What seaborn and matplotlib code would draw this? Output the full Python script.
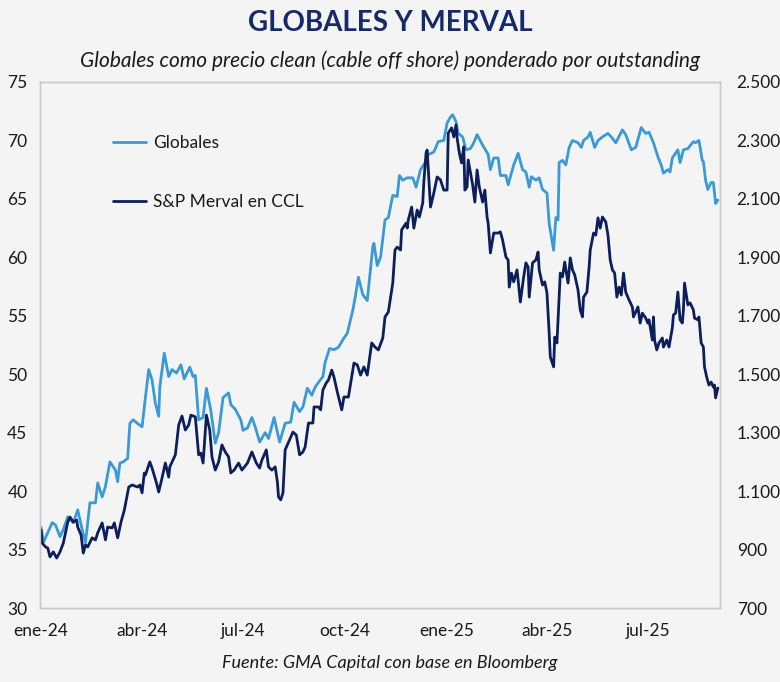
import matplotlib.pyplot as plt
import matplotlib.ticker as mticker
import seaborn as sns
import pandas as pd

# Globales (precio clean ponderado, eje izquierdo)
globales_fechas = [
    "2024-01-01", "2024-01-03", "2024-01-11", "2024-01-14", "2024-01-18", "2024-01-21", "2024-01-25",
    "2024-01-30", "2024-02-03", "2024-02-07", "2024-02-10", "2024-02-14", "2024-02-19", "2024-02-21",
    "2024-02-25", "2024-02-28", "2024-03-03", "2024-03-08", "2024-03-10", "2024-03-12", "2024-03-15",
    "2024-03-19", "2024-03-21", "2024-03-24", "2024-03-29", "2024-04-01", "2024-04-04", "2024-04-07",
    "2024-04-10", "2024-04-13", "2024-04-16", "2024-04-17", "2024-04-21", "2024-04-25", "2024-04-28",
    "2024-05-02", "2024-05-06", "2024-05-09", "2024-05-14", "2024-05-17", "2024-05-19", "2024-05-22",
    "2024-05-26", "2024-05-29", "2024-06-02", "2024-06-06", "2024-06-09", "2024-06-13", "2024-06-18",
    "2024-06-20", "2024-06-24", "2024-06-29", "2024-07-01", "2024-07-05", "2024-07-09", "2024-07-12",
    "2024-07-16", "2024-07-21", "2024-07-24", "2024-07-29", "2024-08-03", "2024-08-08", "2024-08-13",
    "2024-08-16", "2024-08-21", "2024-08-24", "2024-08-28", "2024-09-01", "2024-09-04", "2024-09-07",
    "2024-09-11", "2024-09-13", "2024-09-17", "2024-09-21", "2024-09-25", "2024-09-30", "2024-10-03",
    "2024-10-08", "2024-10-10", "2024-10-13", "2024-10-17", "2024-10-21", "2024-10-26", "2024-10-27",
    "2024-10-30", "2024-11-02", "2024-11-06", "2024-11-09", "2024-11-13", "2024-11-17", "2024-11-19",
    "2024-11-22", "2024-11-26", "2024-12-01", "2024-12-04", "2024-12-08", "2024-12-13", "2024-12-15",
    "2024-12-20", "2024-12-24", "2024-12-29", "2025-01-01", "2025-01-04", "2025-01-06", "2025-01-09",
    "2025-01-11", "2025-01-15", "2025-01-18", "2025-01-22", "2025-01-25", "2025-01-28", "2025-02-02",
    "2025-02-07", "2025-02-09", "2025-02-12", "2025-02-16", "2025-02-18", "2025-02-23", "2025-02-25",
    "2025-03-02", "2025-03-06", "2025-03-10", "2025-03-13", "2025-03-16", "2025-03-18", "2025-03-22",
    "2025-03-25", "2025-03-28", "2025-04-01", "2025-04-03", "2025-04-07", "2025-04-09", "2025-04-11",
    "2025-04-12", "2025-04-15", "2025-04-18", "2025-04-21", "2025-04-24", "2025-04-29", "2025-05-02",
    "2025-05-04", "2025-05-08", "2025-05-10", "2025-05-14", "2025-05-17", "2025-05-21", "2025-05-26",
    "2025-05-29", "2025-06-02", "2025-06-08", "2025-06-11", "2025-06-16", "2025-06-20", "2025-06-25",
    "2025-06-29", "2025-07-02", "2025-07-06", "2025-07-10", "2025-07-13", "2025-07-15", "2025-07-19",
    "2025-07-21", "2025-07-23", "2025-07-28", "2025-07-30", "2025-08-02", "2025-08-06", "2025-08-11",
    "2025-08-13", "2025-08-16", "2025-08-19", "2025-08-20", "2025-08-22", "2025-08-24", "2025-08-27",
    "2025-08-29", "2025-08-31", "2025-09-02",
]
globales_valores = [
    36.9, 35.6, 37.3, 37.1, 36.1, 36.7, 37.8,
    37.3, 38.4, 36.7, 35.6, 39.0, 39.0, 40.7,
    39.5, 40.4, 42.5, 41.8, 40.8, 42.4, 42.5,
    42.8, 45.8, 46.1, 45.7, 45.5, 48.0, 50.4,
    49.5, 47.5, 46.4, 48.9, 51.8, 49.8, 50.4,
    50.1, 50.8, 49.6, 50.6, 49.8, 49.9, 46.1,
    46.3, 48.8, 46.9, 44.1, 45.0, 48.0, 48.4,
    47.4, 47.0, 46.1, 45.2, 45.4, 46.3, 45.5,
    44.2, 45.0, 44.5, 46.3, 44.2, 45.8, 45.9,
    47.6, 46.8, 47.2, 48.8, 48.2, 48.9, 49.3,
    49.8, 51.0, 52.2, 52.1, 52.3, 53.1, 53.5,
    55.5, 56.5, 58.3, 56.8, 56.3, 60.9, 61.2,
    59.3, 60.0, 63.2, 63.4, 65.3, 65.2, 67.0,
    66.6, 66.8, 66.8, 66.0, 67.5, 68.2, 68.8,
    69.0, 69.9, 70.0, 71.5, 72.0, 72.2, 71.6,
    70.6, 70.3, 69.2, 69.3, 69.8, 70.5, 69.6,
    68.8, 67.5, 68.5, 68.5, 67.0, 67.0, 66.2,
    67.9, 68.9, 67.5, 67.3, 66.0, 66.9, 66.6,
    66.8, 65.8, 65.5, 62.9, 60.6, 63.4, 63.2,
    68.1, 68.3, 67.9, 69.4, 70.0, 69.8, 69.4,
    70.0, 70.3, 70.7, 69.4, 70.0, 70.3, 70.6,
    70.3, 69.8, 70.9, 70.5, 69.2, 69.4, 71.1,
    70.6, 70.7, 69.8, 68.6, 67.9, 67.2, 67.5,
    67.3, 68.5, 69.2, 68.1, 69.2, 69.3, 69.9,
    69.8, 70.0, 68.3, 68.2, 66.6, 65.8, 66.4,
    66.4, 64.6, 64.9,
]

# S&P Merval en CCL (eje derecho)
merval_fechas = [
    "2024-01-01", "2024-01-02", "2024-01-05", "2024-01-07", "2024-01-09", "2024-01-12", "2024-01-15",
    "2024-01-18", "2024-01-21", "2024-01-25", "2024-01-27", "2024-01-30", "2024-02-02", "2024-02-03",
    "2024-02-06", "2024-02-08", "2024-02-10", "2024-02-12", "2024-02-16", "2024-02-19", "2024-02-21",
    "2024-02-25", "2024-02-28", "2024-03-01", "2024-03-05", "2024-03-07", "2024-03-10", "2024-03-13",
    "2024-03-16", "2024-03-20", "2024-03-23", "2024-03-28", "2024-03-30", "2024-04-01", "2024-04-03",
    "2024-04-04", "2024-04-08", "2024-04-10", "2024-04-14", "2024-04-16", "2024-04-19", "2024-04-22",
    "2024-04-25", "2024-04-26", "2024-05-01", "2024-05-04", "2024-05-07", "2024-05-10", "2024-05-13",
    "2024-05-15", "2024-05-19", "2024-05-22", "2024-05-24", "2024-05-26", "2024-05-29", "2024-06-01",
    "2024-06-03", "2024-06-06", "2024-06-09", "2024-06-12", "2024-06-15", "2024-06-18", "2024-06-20",
    "2024-06-23", "2024-06-27", "2024-06-30", "2024-07-05", "2024-07-09", "2024-07-13", "2024-07-16",
    "2024-07-18", "2024-07-22", "2024-07-24", "2024-07-27", "2024-07-30", "2024-08-01", "2024-08-02",
    "2024-08-04", "2024-08-06", "2024-08-08", "2024-08-13", "2024-08-15", "2024-08-18", "2024-08-21",
    "2024-08-24", "2024-08-26", "2024-08-29", "2024-09-02", "2024-09-03", "2024-09-07", "2024-09-09",
    "2024-09-11", "2024-09-14", "2024-09-16", "2024-09-19", "2024-09-21", "2024-09-24", "2024-09-28",
    "2024-09-30", "2024-10-04", "2024-10-09", "2024-10-12", "2024-10-15", "2024-10-18", "2024-10-21",
    "2024-10-25", "2024-10-28", "2024-10-31", "2024-11-04", "2024-11-06", "2024-11-09", "2024-11-13",
    "2024-11-15", "2024-11-17", "2024-11-20", "2024-11-21", "2024-11-25", "2024-11-26", "2024-11-27",
    "2024-11-30", "2024-12-02", "2024-12-05", "2024-12-07", "2024-12-10", "2024-12-11", "2024-12-13",
    "2024-12-14", "2024-12-17", "2024-12-20", "2024-12-23", "2024-12-26", "2024-12-29", "2025-01-01",
    "2025-01-02", "2025-01-05", "2025-01-07", "2025-01-09", "2025-01-10", "2025-01-12", "2025-01-14",
    "2025-01-16", "2025-01-17", "2025-01-19", "2025-01-20", "2025-01-24", "2025-01-26", "2025-01-28",
    "2025-01-30", "2025-02-02", "2025-02-04", "2025-02-06", "2025-02-07", "2025-02-09", "2025-02-12",
    "2025-02-16", "2025-02-18", "2025-02-20", "2025-02-23", "2025-02-25", "2025-02-26", "2025-02-28",
    "2025-03-02", "2025-03-05", "2025-03-06", "2025-03-08", "2025-03-11", "2025-03-13", "2025-03-15",
    "2025-03-16", "2025-03-19", "2025-03-22", "2025-03-24", "2025-03-25", "2025-03-28", "2025-03-30",
    "2025-04-01", "2025-04-03", "2025-04-04", "2025-04-07", "2025-04-08", "2025-04-10", "2025-04-13",
    "2025-04-15", "2025-04-17", "2025-04-20", "2025-04-22", "2025-04-24", "2025-04-26", "2025-04-29",
    "2025-05-01", "2025-05-03", "2025-05-04", "2025-05-07", "2025-05-09", "2025-05-10", "2025-05-13",
    "2025-05-15", "2025-05-17", "2025-05-19", "2025-05-21", "2025-05-24", "2025-05-26", "2025-05-28",
    "2025-05-30", "2025-06-01", "2025-06-03", "2025-06-05", "2025-06-07", "2025-06-09", "2025-06-11",
    "2025-06-14", "2025-06-17", "2025-06-18", "2025-06-22", "2025-06-24", "2025-06-26", "2025-06-29",
    "2025-07-01", "2025-07-02", "2025-07-05", "2025-07-06", "2025-07-07", "2025-07-09", "2025-07-11",
    "2025-07-14", "2025-07-15", "2025-07-18", "2025-07-20", "2025-07-23", "2025-07-24", "2025-07-26",
    "2025-07-28", "2025-07-30", "2025-08-01", "2025-08-02", "2025-08-03", "2025-08-06", "2025-08-08",
    "2025-08-11", "2025-08-12", "2025-08-15", "2025-08-16", "2025-08-18", "2025-08-20", "2025-08-21",
    "2025-08-23", "2025-08-25", "2025-08-27", "2025-08-29", "2025-08-30", "2025-08-31", "2025-09-02",
]
merval_valores = [
    967, 922, 909, 905, 875, 892, 871,
    892, 922, 994, 1011, 994, 1001, 977,
    950, 888, 916, 909, 940, 933, 957,
    991, 933, 977, 974, 991, 940, 994,
    1035, 1114, 1121, 1114, 1121, 1094, 1162,
    1155, 1200, 1179, 1128, 1097, 1145, 1196,
    1148, 1183, 1224, 1326, 1357, 1309, 1326,
    1360, 1354, 1224, 1230, 1196, 1360, 1309,
    1217, 1172, 1200, 1258, 1234, 1217, 1162,
    1172, 1196, 1172, 1196, 1234, 1196, 1179,
    1206, 1241, 1183, 1172, 1183, 1131, 1080,
    1070, 1094, 1241, 1285, 1302, 1292, 1224,
    1234, 1251, 1333, 1333, 1388, 1388, 1378,
    1446, 1470, 1480, 1514, 1490, 1439, 1378,
    1422, 1422, 1538, 1532, 1497, 1525, 1497,
    1607, 1593, 1583, 1624, 1696, 1713, 1812,
    1925, 1935, 1925, 1994, 2017, 2000, 2028,
    2072, 2000, 2062, 2038, 2086, 2158, 2257,
    2267, 2072, 2120, 2175, 2165, 2130, 2130,
    2325, 2343, 2312, 2353, 2308, 2257, 2223,
    2278, 2130, 2141, 2233, 2148, 2089, 2199,
    2141, 2089, 2130, 2038, 2017, 1915, 1983,
    1983, 1987, 1959, 1901, 1891, 1798, 1846,
    1816, 1857, 1822, 1747, 1833, 1881, 1867,
    1764, 1881, 1891, 1918, 1857, 1805, 1816,
    1778, 1641, 1559, 1525, 1627, 1607, 1846,
    1833, 1884, 1812, 1898, 1857, 1840, 1788,
    1720, 1696, 1764, 1781, 1867, 1925, 1983,
    1976, 2035, 2000, 2038, 2021, 1976, 1891,
    1857, 1846, 1764, 1798, 1771, 1846, 1781,
    1754, 1730, 1696, 1730, 1675, 1709, 1692,
    1675, 1686, 1617, 1696, 1617, 1583, 1607,
    1624, 1593, 1617, 1593, 1658, 1703, 1709,
    1781, 1686, 1675, 1720, 1812, 1737, 1744,
    1720, 1692, 1686, 1696, 1607, 1593, 1525,
    1490, 1463, 1473, 1456, 1463, 1419, 1453,
]

x_tick_fechas = ["2024-01-01", "2024-04-01", "2024-07-01", "2024-10-01",
                 "2025-01-01", "2025-04-01", "2025-07-01"]
x_tick_labels = ["ene-24", "abr-24", "jul-24", "oct-24", "ene-25", "abr-25", "jul-25"]

color_globales = "#3a9ad8"
color_merval = "#0c1f5c"
color_titulo = "#142a6b"
fondo = "#f4f4f4"

sns.set_theme(style="white")
plt.rcParams["font.family"] = ["Lato", "DejaVu Sans"]

df_g = pd.DataFrame({"fecha": pd.to_datetime(globales_fechas), "valor": globales_valores})
df_m = pd.DataFrame({"fecha": pd.to_datetime(merval_fechas), "valor": merval_valores})

fig = plt.figure(figsize=(7.8, 6.82), dpi=100, facecolor=fondo)
ax = fig.add_axes([0.0513, 0.1085, 0.8718, 0.7713])
ax.set_facecolor(fondo)
ax2 = ax.twinx()

sns.lineplot(data=df_g, x="fecha", y="valor", ax=ax, color=color_globales, linewidth=2.0,
             label="Globales", legend=False)
sns.lineplot(data=df_m, x="fecha", y="valor", ax=ax2, color=color_merval, linewidth=2.0,
             label="S&P Merval en CCL", legend=False)

ax.set_xlim(pd.Timestamp("2023-12-31"), pd.Timestamp("2025-09-04"))
ax.set_ylim(30, 75)
ax.set_yticks(range(30, 80, 5))
ax2.set_ylim(700, 2500)
ax2.set_yticks(range(700, 2700, 200))
ax2.yaxis.set_major_formatter(mticker.FuncFormatter(lambda v, p: f"{int(v):,}".replace(",", ".")))

ax.set_xticks(pd.to_datetime(x_tick_fechas))
ax.set_xticklabels(x_tick_labels)

for a in (ax, ax2):
    a.set_xlabel("")
    a.set_ylabel("")
    for s in a.spines.values():
        s.set_color("#c9c9c9")
        s.set_linewidth(1.0)
ax.tick_params(axis="x", length=0, pad=11, labelsize=12.5, labelcolor="#1a1a1a")
ax.tick_params(axis="y", length=0, pad=9, labelsize=12.5, labelcolor="#1a1a1a")
ax2.tick_params(axis="y", length=0, pad=12, labelsize=12.5, labelcolor="#1a1a1a")

h1, l1 = ax.get_legend_handles_labels()
h2, l2 = ax2.get_legend_handles_labels()
leg = ax2.legend(h1 + h2, l1 + l2, loc="upper left", bbox_to_anchor=(0.107, 0.899),
                 frameon=False, fontsize=12.5, handlelength=1.9, handletextpad=0.4,
                 labelspacing=2.45, borderpad=0, borderaxespad=0)
for t in leg.get_texts():
    t.set_color("#1a1a1a")

fig.text(0.5, 0.966, "GLOBALES Y MERVAL", ha="center", va="center", fontsize=20,
         fontweight="bold", color=color_titulo)
fig.text(0.5, 0.911, "Globales como precio clean (cable off shore) ponderado por outstanding",
         ha="center", va="center", fontsize=15, style="italic", color="#1a1a1a")
fig.text(0.5, 0.028, "Fuente: GMA Capital con base en Bloomberg", ha="center", va="center",
         fontsize=13, style="italic", color="#1a1a1a")

fig.savefig("out.png", dpi=100, facecolor=fondo)
